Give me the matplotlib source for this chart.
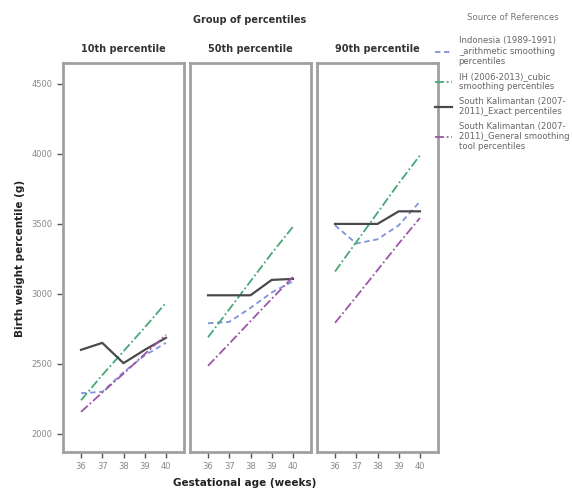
import matplotlib
matplotlib.use("Agg")
import matplotlib.pyplot as plt
from matplotlib.lines import Line2D

weeks = [36, 37, 38, 39, 40]
week_labels = ["36", "37", "38", "39", "40"]
panels = ["10th percentile", "50th percentile", "90th percentile"]

# Birth weight percentiles (g) by reference, one list per percentile group
indonesia = [
    [2290, 2300, 2440, 2560, 2650],
    [2790, 2800, 2900, 3010, 3090],
    [3490, 3360, 3390, 3490, 3660],
]
ih = [
    [2240, 2420, 2590, 2760, 2936],
    [2690, 2890, 3090, 3290, 3480],
    [3160, 3370, 3580, 3790, 3990],
]
kalimantan_exact = [
    [2600, 2650, 2505, 2600, 2686],
    [2990, 2990, 2990, 3100, 3107],
    [3500, 3500, 3500, 3590, 3590],
]
kalimantan_smooth = [
    [2157, 2295, 2430, 2570, 2707],
    [2486, 2645, 2805, 2965, 3121],
    [2793, 2980, 3170, 3360, 3543],
]
y_ticks = [2000, 2500, 3000, 3500, 4000, 4500]

series_names = [
    "Indonesia (1989-1991)\n_arithmetic smoothing\npercentiles",
    "IH (2006-2013)_cubic\nsmoothing percentiles",
    "South Kalimantan (2007-\n2011)_Exact percentiles",
    "South Kalimantan (2007-\n2011)_General smoothing\ntool percentiles",
]
styles = [
    dict(color="#7f93d8", ls=(0, (3, 2)), lw=1.3),
    dict(color="#45a877", ls=(0, (5, 1.5, 1, 1.5)), lw=1.3),
    dict(color="#4a4a4a", ls="-", lw=1.6),
    dict(color="#9c55a8", ls=(0, (5, 1.5, 1, 1.5)), lw=1.3),
]

frame_col = "#a0a0a0"
fig = plt.figure(figsize=(5.72, 4.97), dpi=100)

lefts = [63, 190, 317]
width = 121
top, bottom = 63, 452
W, H = 572, 497
axes = []
for i, left in enumerate(lefts):
    ax = fig.add_axes([left / W, 1 - bottom / H, width / W, (bottom - top) / H])
    axes.append(ax)
    data = [indonesia[i], ih[i], kalimantan_exact[i], kalimantan_smooth[i]]
    for vals, st in zip(data, styles):
        ax.plot(weeks, vals, **st)
    ax.set_xlim(35.15, 40.85)
    ax.set_ylim(1870, 4650)
    ax.set_xticks(weeks)
    ax.set_xticklabels(week_labels)
    ax.set_yticks(y_ticks)
    for sp in ax.spines.values():
        sp.set_color(frame_col)
        sp.set_linewidth(2)
    ax.tick_params(axis="both", colors="#555555", labelcolor="#888888",
                   labelsize=6, length=4, width=1)
    if i > 0:
        ax.tick_params(axis="y", left=False, labelleft=False)
    ax.set_title(panels[i], fontsize=7, fontweight="bold", color="#333333", pad=8)

fig.text(250 / W, 1 - 20 / H, "Group of percentiles", ha="center", va="center",
         fontsize=7, fontweight="bold", color="#333333")
fig.text(245 / W, 1 - 483 / H, "Gestational age (weeks)", ha="center", va="center",
         fontsize=7.5, fontweight="bold", color="#222222")
fig.text(20 / W, 1 - 258 / H, "Birth weight percentile (g)", ha="center", va="center",
         rotation=90, fontsize=7.5, fontweight="bold", color="#222222")

# Legend title drawn separately so it sits above the entries with a wider gap
fig.text(513 / W, 1 - 17 / H, "Source of References", ha="center", va="center",
         fontsize=6.2, color="#777777")

handles = [Line2D([0], [0], **st) for st in styles]
leg = fig.legend(handles, series_names, loc="upper left",
                 bbox_to_anchor=(432 / W, 1 - 33 / H), frameon=False,
                 fontsize=6.1, handlelength=2.0, handletextpad=0.75,
                 labelspacing=0.65, borderaxespad=0.2, borderpad=0.2)
for t in leg.get_texts():
    t.set_color("#666666")

fig.savefig("out.png", dpi=100)
